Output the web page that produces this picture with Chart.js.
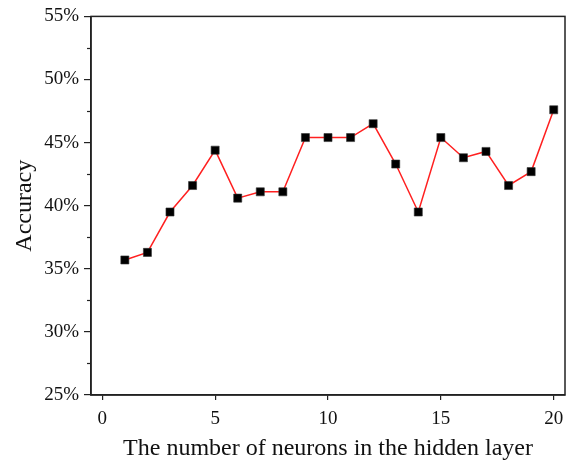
<!DOCTYPE html>
<html>
<head>
<meta charset="utf-8">
<script src="https://cdn.jsdelivr.net/npm/chart.js@4"></script>
<style>
  html, body { margin: 0; padding: 0; background: #fff; }
  #wrap { width: 579px; height: 463px; }
</style>
</head>
<body>
<div id="wrap"><canvas id="chart"></canvas></div>
<script>
// neurons in hidden layer vs accuracy (%)
const neurons = [1, 2, 3, 4, 5, 6, 7, 8, 9, 10, 11, 12, 13, 14, 15, 16, 17, 18, 19, 20]
const accuracy = [35.7, 36.3, 39.5, 41.6, 44.4, 40.6, 41.1, 41.1, 45.4, 45.4,
                  45.4, 46.5, 43.3, 39.5, 45.4, 43.8, 44.3, 41.6, 42.7, 47.6]
const xTicks = [0, 5, 10, 15, 20]
const yTicks = [25, 30, 35, 40, 45, 50, 55]
const yMinorTicks = [27.5, 32.5, 37.5, 42.5, 47.5, 52.5]

const serif = "'Liberation Serif', 'Times New Roman', serif"
const axisColor = "#222"

// frame on top/right + short minor ticks on the y axis
const framePlugin = {
  id: "frame",
  afterDraw(chart) {
    const { ctx, chartArea: a, scales } = chart
    ctx.save()
    ctx.strokeStyle = axisColor
    ctx.lineWidth = 1.5
    ctx.strokeRect(a.left, a.top, a.right - a.left, a.bottom - a.top)
    ctx.lineWidth = 1.2
    yMinorTicks.forEach((v) => {
      const y = Math.round(scales.y.getPixelForValue(v)) + 0.5
      ctx.beginPath()
      ctx.moveTo(a.left - 4, y)
      ctx.lineTo(a.left, y)
      ctx.stroke()
    })
    ctx.restore()
  }
}

new Chart(document.getElementById("chart"), {
  type: "line",
  data: {
    datasets: [{
      data: neurons.map((n, i) => ({ x: n, y: accuracy[i] })),
      borderColor: "#ff2020",
      borderWidth: 1.5,
      pointStyle: "rect",
      pointRadius: 5.7,
      pointBackgroundColor: "#000",
      pointBorderColor: "#333",
      pointBorderWidth: 0.6,
      tension: 0
    }]
  },
  options: {
    responsive: true,
    maintainAspectRatio: false,
    animation: false,
    layout: { padding: { left: 0, top: 14, right: 14, bottom: 0 } },
    plugins: { legend: { display: false }, tooltip: { enabled: false } },
    scales: {
      x: {
        type: "linear",
        min: -0.5,
        max: 20.5,
        afterBuildTicks: (scale) => { scale.ticks = xTicks.map((v) => ({ value: v })) },
        afterFit: (scale) => { scale.height = 68 },
        grid: { drawOnChartArea: false, drawTicks: true, tickLength: 5, color: axisColor, lineWidth: 1.2 },
        border: { display: true, color: axisColor, width: 1.5 },
        ticks: { color: "#111", font: { family: serif, size: 19 }, padding: 8, maxRotation: 0 },
        title: {
          display: true,
          text: "The number of neurons in the hidden layer",
          color: "#111",
          font: { family: serif, size: 24 },
          padding: { top: 0, bottom: 0 }
        }
      },
      y: {
        min: 25,
        max: 55,
        afterBuildTicks: (scale) => { scale.ticks = yTicks.map((v) => ({ value: v })) },
        afterFit: (scale) => { scale.width = 91 },
        grid: { drawOnChartArea: false, drawTicks: true, tickLength: 7, color: axisColor, lineWidth: 1.2 },
        border: { display: true, color: axisColor, width: 1.5 },
        ticks: {
          color: "#111",
          font: { family: serif, size: 19 },
          padding: 5,
          callback: (v) => v + "%"
        },
        title: {
          display: true,
          text: "Accuracy",
          color: "#111",
          font: { family: serif, size: 24 },
          padding: { top: 10, bottom: 0 }
        }
      }
    }
  },
  plugins: [framePlugin]
})
</script>
</body>
</html>
